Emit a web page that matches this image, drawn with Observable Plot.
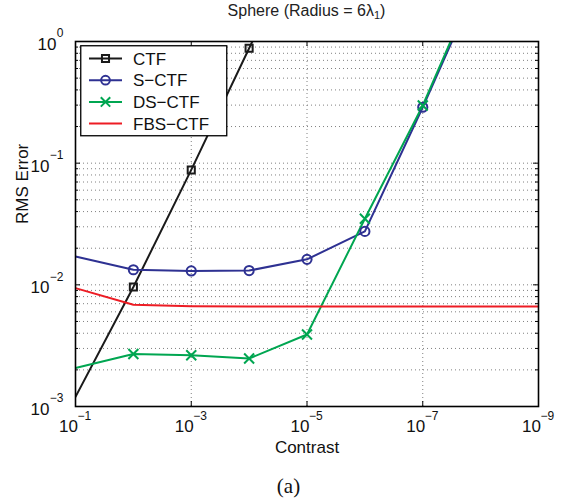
<!DOCTYPE html>
<html><head><meta charset="utf-8">
<script src="https://cdn.jsdelivr.net/npm/d3@7"></script>
<script src="https://cdn.jsdelivr.net/npm/@observablehq/plot@0.6"></script>
<style>
body{margin:0;background:#fff}
#wrap{position:relative;width:577px;height:501px;font-family:"Liberation Sans",Arial,sans-serif}
#title{position:absolute;left:75px;width:463px;top:2px;text-align:center;font-size:16px;color:#222}
#title sub{font-size:11px;vertical-align:-3px}
#caption{position:absolute;left:0;width:577px;top:474px;text-align:center;font:21px "Liberation Serif","Times New Roman",serif;color:#111}
#legend{position:absolute;left:80px;top:45px}
</style>
</head><body>
<div id="wrap">
  <div id="chart"></div>
  <div id="title">Sphere (Radius = 6λ<sub>1</sub>)</div>
  <div id="caption">(a)</div>
  <svg id="legend" width="150" height="93"></svg>
</div>
<script>
// ---- data ----
const contrast = [1e-1, 1e-2, 1e-3, 1e-4, 1e-5, 1e-6, 1e-7, 1e-8, 1e-9];
const seriesNames = ["CTF", "S−CTF", "DS−CTF", "FBS−CTF"];
const ctf    = [0.0012, 0.0096, 0.088, 0.88, 8.8];
const sctf   = [0.0171, 0.0133, 0.0130, 0.0131, 0.0162, 0.0275, 0.288, 3.4];
const dsctf  = [0.00207, 0.0027, 0.00264, 0.00248, 0.00391, 0.0349, 0.298, 3.7];
const fbsctf = [0.0094, 0.00686, 0.00668, 0.00665, 0.00665, 0.00665, 0.00665, 0.00665, 0.00665];
const xTicks = [1e-1, 1e-3, 1e-5, 1e-7, 1e-9];
const xTickExp = ["−1", "−3", "−5", "−7", "−9"];
const yTicks = [1e-3, 1e-2, 1e-1, 1];
const yTickExp = ["−3", "−2", "−1", "0"];
const xLabel = "Contrast";
const yLabel = "RMS Error";

const colors = ["#1a1a1a", "#2e3192", "#00a651", "#ed1c24"];
const symbols = ["square", "circle", "times", null];
const values = [ctf, sctf, dsctf, fbsctf];
const series = values.map((vals, s) => ({
  name: seriesNames[s], color: colors[s], symbol: symbols[s],
  rows: vals.map((v, i) => ({x: contrast[i], y: v}))
}));

const yGrid = d3.scaleLog().domain([1e-3, 1]).ticks();
const xGrid = xTicks.slice(1, -1);

const W = 577, H = 501, mL = 75, mR = 39, mT = 41, mB = 95;
const fw = W - mL - mR, fh = H - mT - mB;
const gridStyle = {stroke: "#808080", strokeWidth: 1, strokeDasharray: "1,3"};
const font = "Liberation Sans, Arial, sans-serif";

const marks = [
  Plot.ruleY(yGrid.filter(d => d > 1e-3 && d < 1), {y: d => d, ...gridStyle}),
  Plot.ruleX(xGrid, {x: d => d, ...gridStyle}),
  // ticks (inward)
  Plot.ruleX(xTicks, {x: d => d, insetTop: fh - 5, stroke: "black", strokeWidth: 1}),
  Plot.ruleX(xTicks, {x: d => d, insetBottom: fh - 5, stroke: "black", strokeWidth: 1}),
  Plot.ruleY(yTicks, {y: d => d, insetRight: fw - 5, stroke: "black", strokeWidth: 1}),
  Plot.ruleY(yTicks, {y: d => d, insetLeft: fw - 5, stroke: "black", strokeWidth: 1}),
  Plot.ruleY(yGrid.filter(d => !yTicks.includes(d)), {y: d => d, insetRight: fw - 3, stroke: "black", strokeWidth: 1}),
  Plot.ruleY(yGrid.filter(d => !yTicks.includes(d)), {y: d => d, insetLeft: fw - 3, stroke: "black", strokeWidth: 1}),
];
series.forEach(s => {
  marks.push(Plot.line(s.rows, {x: "x", y: "y", stroke: s.color, strokeWidth: 2, clip: true}));
});
series.forEach(s => {
  if (!s.symbol) return;
  marks.push(Plot.dot(s.rows.filter(d => d.x < 1e-1 && d.y <= 1), {
    x: "x", y: "y", symbol: s.symbol, r: s.symbol === "square" ? 4 : 4.6,
    stroke: s.color, strokeWidth: 2, fill: "none"
  }));
});
marks.push(
  Plot.frame({stroke: "black", strokeWidth: 1.6}),
  // x tick labels
  Plot.text(xTicks, {x: d => d, frameAnchor: "bottom", text: () => "10", dy: 25, dx: -7, fontSize: 17, fill: "#111"}),
  Plot.text(xTicks, {x: d => d, frameAnchor: "bottom", text: (d, i) => xTickExp[i], dy: 13, dx: 2, textAnchor: "start", fontSize: 12, fill: "#111"}),
  // y tick labels
  Plot.text(yTicks, {y: d => d, frameAnchor: "left", text: (d, i) => yTickExp[i], dy: -8, dx: -12, textAnchor: "end", fontSize: 12, fill: "#111"}),
  Plot.text(yTicks.filter((d, i) => yTickExp[i].length > 1), {y: d => d, frameAnchor: "left", text: () => "10", dy: 3, dx: -26, textAnchor: "end", fontSize: 17, fill: "#111"}),
  Plot.text(yTicks.filter((d, i) => yTickExp[i].length === 1), {y: d => d, frameAnchor: "left", text: () => "10", dy: 3, dx: -19, textAnchor: "end", fontSize: 17, fill: "#111"}),
  // axis labels
  Plot.text([xLabel], {frameAnchor: "bottom", text: d => d, dy: 46, fontSize: 17, fill: "#111"}),
  Plot.text([yLabel], {frameAnchor: "left", text: d => d, dx: -53, rotate: -90, fontSize: 17, fill: "#111"})
);

const chart = Plot.plot({
  width: W, height: H, marginLeft: mL, marginRight: mR, marginTop: mT, marginBottom: mB,
  style: {fontFamily: font, background: "transparent"},
  x: {type: "log", domain: [1e-1, 1e-9], axis: null},
  y: {type: "log", domain: [1e-3, 1], axis: null},
  marks
});
document.getElementById("chart").appendChild(chart);

// legend
const lg = d3.select("#legend");
lg.append("rect").attr("x", 0.75).attr("y", 0.75).attr("width", 146).attr("height", 90)
  .attr("fill", "white").attr("stroke", "black").attr("stroke-width", 1.3);
series.forEach((s, i) => {
  const cy = 13.5 + i * 21.7;
  lg.append("line").attr("x1", 9).attr("x2", 42).attr("y1", cy).attr("y2", cy)
    .attr("stroke", s.color).attr("stroke-width", 2);
  if (s.symbol) {
    lg.append("path").attr("transform", `translate(25.5,${cy})`)
      .attr("d", d3.symbol(s.symbol === "square" ? d3.symbolSquare : s.symbol === "circle" ? d3.symbolCircle : d3.symbolTimes, s.symbol === "square" ? 50 : 60)())
      .attr("fill", "none").attr("stroke", s.color).attr("stroke-width", 2);
  }
  lg.append("text").attr("x", 53).attr("y", cy + 6).attr("font-size", 17).attr("fill", "#111")
    .attr("font-family", font).text(s.name);
});
</script>
</body></html>
